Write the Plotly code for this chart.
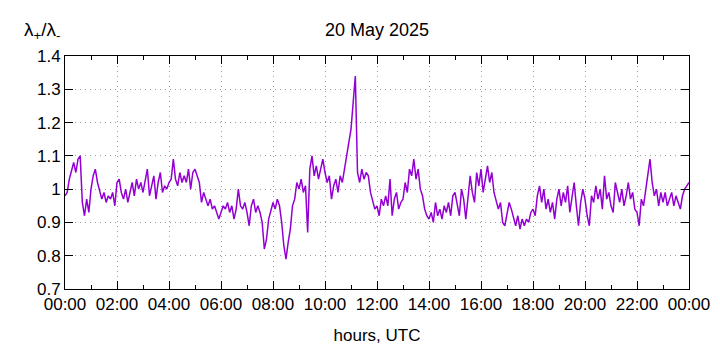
import pandas as pd
import plotly.graph_objects as go

# lambda+/lambda- ratio, 5-minute samples, 20 May 2025 00:00 .. 21 May 00:00 UTC
ratio_h00_03 = [
    0.98, 0.99, 1.03, 1.06, 1.08, 1.05, 1.09, 1.10, 0.96, 0.92, 0.97, 0.93,
    1.00, 1.04, 1.06, 1.02, 0.99, 0.97, 0.99, 0.96, 0.98, 0.97, 0.99, 0.95,
    1.02, 1.03, 0.99, 0.97, 1.00, 0.96, 0.99, 1.02, 0.98, 1.03, 1.00, 1.02,
    0.99, 1.03, 1.06, 0.98, 1.01, 1.04, 0.97, 1.02, 1.05, 0.99, 1.01, 1.00,
]
ratio_h04_07 = [
    1.02, 1.03, 1.09, 1.03, 1.01, 1.05, 1.02, 1.04, 1.02, 1.06, 1.00, 1.05,
    1.06, 1.04, 1.02, 0.96, 0.99, 0.97, 0.95, 0.97, 0.94, 0.95, 0.93, 0.91,
    0.93, 0.95, 0.94, 0.96, 0.93, 0.95, 0.91, 0.94, 1.00, 0.95, 0.94, 0.96,
    0.93, 0.89, 0.95, 0.97, 0.93, 0.95, 0.93, 0.90, 0.82, 0.85, 0.91, 0.94,
]
ratio_h08_11 = [
    0.96, 0.94, 0.97, 0.95, 0.90, 0.83, 0.79, 0.84, 0.88, 0.95, 0.97, 1.02,
    1.00, 1.03, 0.99, 1.01, 0.87, 1.06, 1.10, 1.04, 1.07, 1.03, 1.06, 1.09,
    1.05, 1.02, 1.04, 0.97, 1.01, 1.03, 0.99, 1.04, 1.02, 1.06, 1.11, 1.15,
    1.18, 1.26, 1.34, 1.05, 1.02, 1.06, 1.03, 1.05, 1.04, 0.99, 0.96, 0.94,
]
ratio_h12_15 = [
    0.95, 0.92, 0.97, 0.95, 0.98, 0.95, 1.03, 0.92, 0.97, 0.99, 0.94, 0.96,
    0.97, 1.02, 0.99, 1.06, 1.04, 1.09, 1.03, 1.06, 1.00, 0.98, 0.94, 0.92,
    0.91, 0.93, 0.90, 0.96, 0.92, 0.94, 0.91, 0.95, 0.93, 0.96, 0.92, 0.98,
    0.99, 0.96, 0.92, 1.00, 0.97, 0.91, 0.97, 1.04, 0.99, 0.96, 1.05, 1.01,
]
ratio_h16_19 = [
    1.06, 0.99, 1.03, 1.07, 1.02, 1.05, 0.99, 0.96, 0.94, 0.96, 0.90, 0.89,
    0.93, 0.96, 0.94, 0.91, 0.89, 0.92, 0.88, 0.91, 0.89, 0.91, 0.90, 0.93,
    0.94, 0.92, 0.98, 1.01, 0.96, 1.00, 0.94, 0.97, 0.93, 0.96, 0.91, 0.97,
    1.00, 0.95, 0.99, 0.96, 1.01, 0.93, 0.98, 1.02, 0.95, 0.89, 0.96, 1.00,
]
ratio_h20_23 = [
    0.97, 0.92, 0.89, 0.98, 0.96, 1.01, 0.97, 1.00, 0.94, 1.04, 0.97, 0.99,
    0.95, 0.93, 1.02, 0.99, 0.96, 1.00, 0.95, 0.98, 1.02, 0.97, 0.99, 0.94,
    0.93, 0.89, 0.97, 0.95, 1.00, 1.04, 1.09, 1.02, 0.98, 1.00, 0.95, 0.99,
    0.96, 0.99, 0.95, 0.97, 0.99, 0.95, 0.98, 0.96, 0.94, 0.98, 1.00, 1.01,
    1.02,
]
ratio = ratio_h00_03 + ratio_h04_07 + ratio_h08_11 + ratio_h12_15 + ratio_h16_19 + ratio_h20_23
times = pd.date_range("2025-05-20 00:00", periods=len(ratio), freq="5min")

title_text = "20 May 2025"
x_title = "hours, UTC"
y_title = "λ<sub>+</sub>/λ<sub>-</sub>"
y_ticks = [0.7, 0.8, 0.9, 1.0, 1.1, 1.2, 1.3, 1.4]
y_ticklabels = ["0.7", "0.8", "0.9", "1", "1.1", "1.2", "1.3", "1.4"]

FONT = "Liberation Sans, Arial, sans-serif"

fig = go.Figure()
fig.add_trace(go.Scatter(x=times, y=ratio, mode="lines",
                         line=dict(color="#9400D3", width=1.5),
                         showlegend=False))

axis_common = dict(showline=True, linecolor="black", linewidth=1, mirror="ticks",
                   ticks="inside", ticklen=8, tickcolor="black", automargin=False,
                   showgrid=True, gridcolor="#9a9a9a", griddash="1px,4px", gridwidth=1,
                   zeroline=False, tickfont=dict(family=FONT, size=17, color="black"))

# page body has an 8px default margin: figure is 712x342 so plot area lands at 65..689 x 56..289
fig.update_layout(
    width=712, height=342,
    margin=dict(l=57, r=31, t=48, b=61),
    paper_bgcolor="white", plot_bgcolor="white",
    font=dict(family=FONT, size=17, color="black"),
    title=dict(text=title_text, x=0.5, xref="paper", xanchor="center",
               y=0.936, yanchor="middle", font=dict(family=FONT, size=18)),
    xaxis=dict(range=[times[0], times[-1]], dtick=2 * 3600000, tickformat="%H:%M",
               title=dict(text=x_title, font=dict(family=FONT, size=17), standoff=15),
               minor=dict(dtick=3600000, ticks="inside", ticklen=4, tickcolor="black",
                          showgrid=False),
               **axis_common),
    yaxis=dict(range=[0.7, 1.4], tickvals=y_ticks, ticktext=y_ticklabels,
               **axis_common),
    annotations=[dict(text=y_title, xref="paper", yref="paper", x=-0.037, y=1.107,
                      xanchor="center", yanchor="middle", showarrow=False,
                      font=dict(family=FONT, size=19))],
)

fig.write_html("out.html")
